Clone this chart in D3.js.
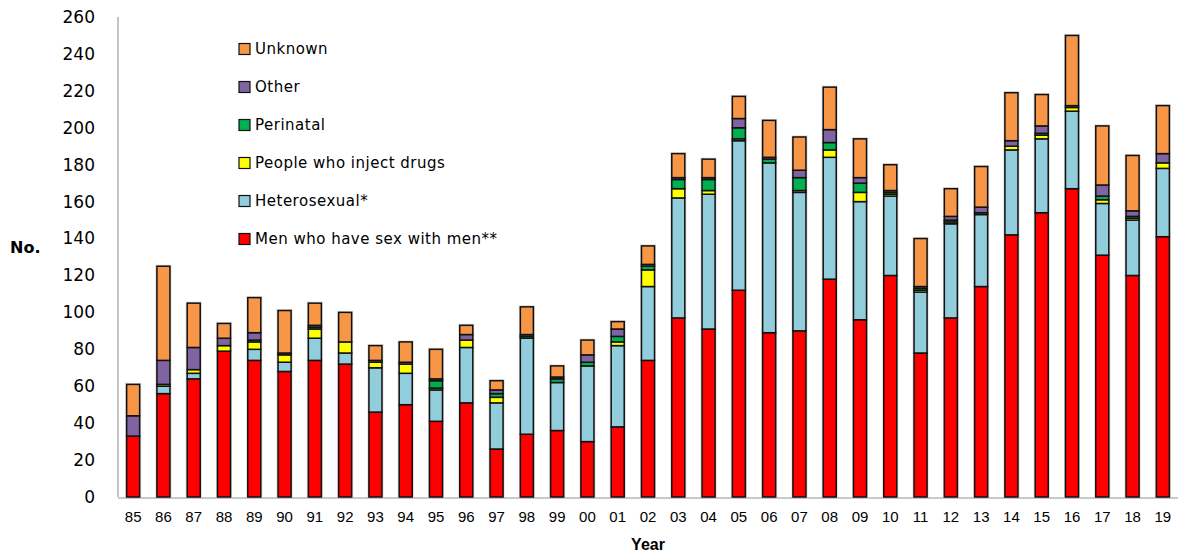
<!DOCTYPE html>
<html><head><meta charset="utf-8">
<script src="https://cdn.jsdelivr.net/npm/d3@7"></script>
<style>body{margin:0;background:#fff;}svg{display:block;}</style>
</head><body>
<svg id="c" width="1178" height="552"></svg>
<script>
const years = ["85","86","87","88","89","90","91","92","93","94","95","96","97","98","99","00","01","02","03","04","05","06","07","08","09","10","11","12","13","14","15","16","17","18","19"];
const msm        = [33,56,64,79,74,68,74,72,46,50,41,51,26,34,36,30,38,74,97,91,112,89,90,118,96,120,78,97,114,142,154,167,131,120,141];
const hetero     = [0,4,3,0,6,5,12,6,24,17,17,30,25,52,26,41,44,40,65,73,81,92,75,66,64,43,33,51,39,46,40,42,28,30,37];
const pwid       = [0,1,2,3,4,4,5,6,3,5,1,4,3,0,0,0,2,9,5,2,1,0,1,4,5,1,1,1,0,2,2,2,2,1,3];
const perinatal  = [0,0,0,0,1,0,1,0,0,0,4,0,2,1,2,2,3,2,5,6,6,2,7,4,5,1,1,1,1,0,1,0,2,1,0];
const other      = [11,13,12,4,4,1,1,0,1,1,1,3,2,1,1,4,4,1,1,1,5,1,4,7,3,1,1,2,3,3,4,1,6,3,5];
const unknown    = [17,51,24,8,19,23,12,16,8,11,16,5,5,15,6,8,4,10,13,10,12,20,18,23,21,14,26,15,22,26,17,38,32,30,26];
const seriesNames = ["Men who have sex with men**","Heterosexual*","People who inject drugs","Perinatal","Other","Unknown"];
const seriesData = [msm, hetero, pwid, perinatal, other, unknown];
const colors = ["#FF0000","#92CDDC","#FFFF00","#00B050","#8064A2","#F79646"];
const yTicks = [0,20,40,60,80,100,120,140,160,180,200,220,240,260];

const svg = d3.select("#c");
const x = d3.scaleBand().domain(years).range([118,1178]).paddingInner(0.57).paddingOuter(0.285);
const y = d3.scaleLinear().domain([0,260]).range([497,17]);

const rows = years.map((yr,i)=>{const o={year:yr}; seriesNames.forEach((s,j)=>o[s]=seriesData[j][i]); return o;});
const stack = d3.stack().keys(seriesNames)(rows);

// axes
svg.append("line").attr("x1",118).attr("x2",1178).attr("y1",y(0)+1).attr("y2",y(0)+1).attr("stroke","#c8c8c8").attr("stroke-width",2);
svg.append("line").attr("x1",118).attr("x2",118).attr("y1",y(260)).attr("y2",y(0)).attr("stroke","#b0b0b0").attr("stroke-width",1.5);

const yAxis = svg.append("g").attr("transform","translate(118,0)")
  .call(d3.axisLeft(y).tickValues(yTicks).tickSize(0).tickPadding(23));
yAxis.select(".domain").remove();
yAxis.selectAll("text").attr("font-family","DejaVu Sans, Verdana, sans-serif").attr("font-size",17).attr("fill","#000");

const xAxis = svg.append("g").attr("transform","translate(0,"+y(0)+")")
  .call(d3.axisBottom(x).tickSize(0).tickPadding(14));
xAxis.select(".domain").remove();
xAxis.selectAll("text").attr("font-family","Liberation Sans Narrow, Arial Narrow, Liberation Sans, sans-serif").attr("font-stretch","condensed").attr("font-size",15).attr("fill","#000");

// bar shadows
svg.append("g").selectAll("rect").data(rows).join("rect")
  .attr("x",d=>x(d.year)-1.5)
  .attr("width",x.bandwidth()+3)
  .attr("y",d=>y(d3.sum(seriesNames,s=>d[s]))-1.5)
  .attr("height",d=>y(0)-y(d3.sum(seriesNames,s=>d[s]))+1.5)
  .attr("fill","#bbb").attr("opacity",0.6);

// bars
svg.append("g").selectAll("g").data(stack).join("g")
  .attr("fill",(d,i)=>colors[i])
  .selectAll("rect").data(d=>d.filter(p=>p[1]-p[0]>0)).join("rect")
  .attr("x",d=>x(d.data.year))
  .attr("width",x.bandwidth())
  .attr("y",d=>y(d[1]))
  .attr("height",d=>y(d[0])-y(d[1]))
  .attr("stroke","#111").attr("stroke-width",1.5);

// legend
const leg = svg.append("g");
const legOrder = [5,4,3,2,1,0];
legOrder.forEach((si,k)=>{
  const yy = 49 + k*38;
  leg.append("rect").attr("x",239).attr("y",yy-5.5).attr("width",11).attr("height",11)
    .attr("fill",colors[si]).attr("stroke","#111").attr("stroke-width",1.2);
  leg.append("text").attr("x",255).attr("y",yy).attr("dy","0.35em")
    .attr("font-family","DejaVu Sans, Verdana, sans-serif").attr("font-size",15)
    .attr("letter-spacing","0.5px").text(seriesNames[si]);
});

svg.append("text").attr("x",10).attr("y",247).attr("dy","0.35em")
  .attr("font-family","DejaVu Sans, Verdana, sans-serif").attr("font-weight","bold").attr("font-size",16).text("No.");
svg.append("text").attr("x",648).attr("y",544).attr("dy","0.35em").attr("text-anchor","middle")
  .attr("font-family","Liberation Sans Narrow, Arial Narrow, Liberation Sans, sans-serif").attr("font-stretch","condensed")
  .attr("font-weight","bold").attr("font-size",16).text("Year");
</script>
</body></html>
